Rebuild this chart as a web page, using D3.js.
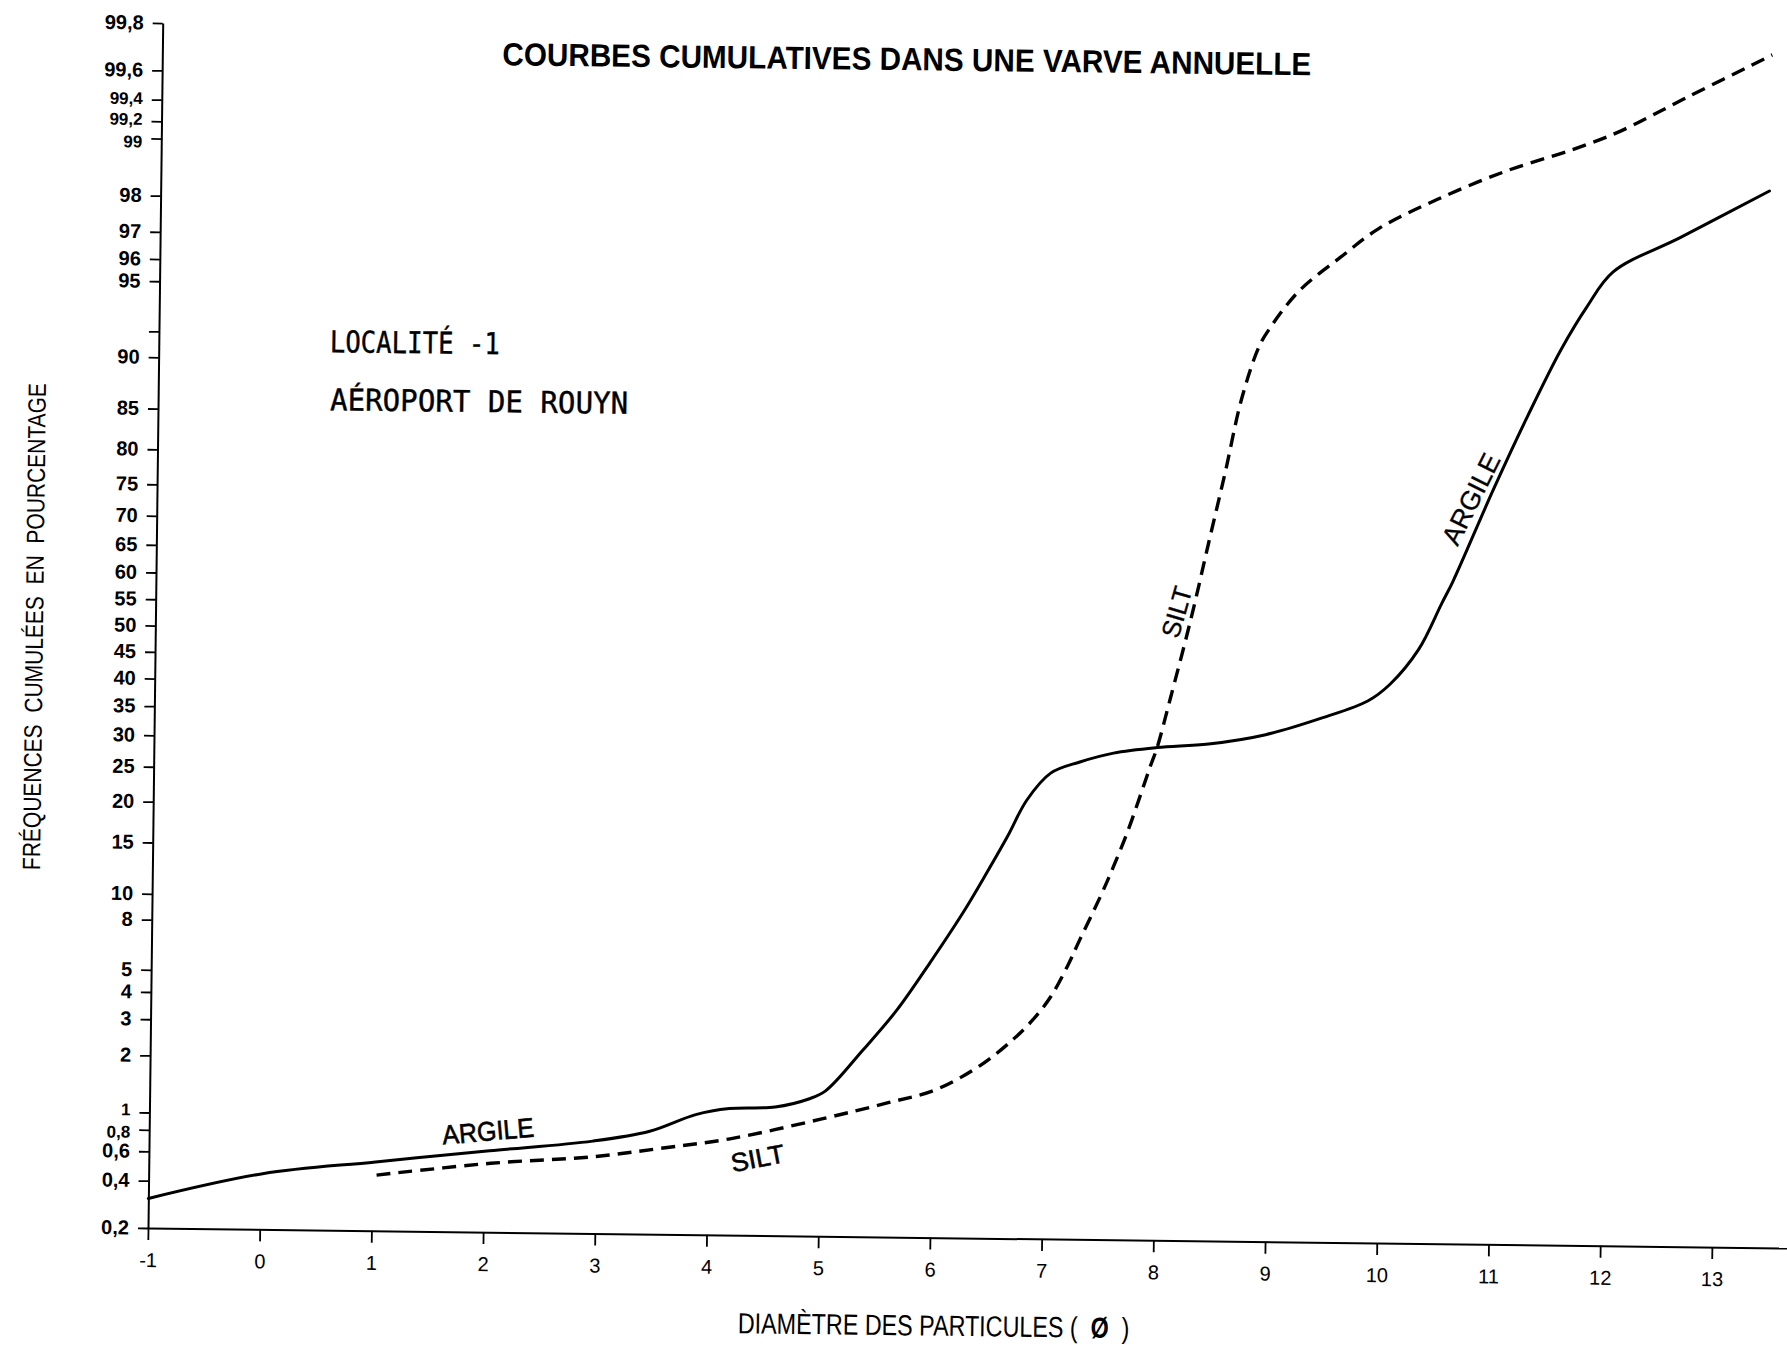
<!DOCTYPE html>
<html>
<head>
<meta charset="utf-8">
<script src="https://cdn.jsdelivr.net/npm/d3@7"></script>
<style>
  html, body { margin: 0; padding: 0; background: #fff; }
  svg { display: block; }
  .tick text { fill: #000; }
</style>
</head>
<body>
<svg id="chart" width="1787" height="1345"></svg>
<script>
// Grain size axis (phi units)
const phiTicks = [-1, 0, 1, 2, 3, 4, 5, 6, 7, 8, 9, 10, 11, 12, 13];
const phiTickLabels = ["-1", "0", "1", "2", "3", "4", "5", "6", "7", "8", "9", "10", "11", "12", "13"];

// Cumulative frequency axis (probability paper, %)
const pctTicks = [0.2, 0.4, 0.6, 0.8, 1, 2, 3, 4, 5, 8, 10, 15, 20, 25, 30, 35, 40, 45, 50,
                  55, 60, 65, 70, 75, 80, 85, 90, 92, 95, 96, 97, 98, 99, 99.2, 99.4, 99.6, 99.8];
const pctTickLabels = ["0,2", "0,4", "0,6", "0,8", "1", "2", "3", "4", "5", "8", "10", "15", "20", "25", "30", "35", "40", "45", "50",
                       "55", "60", "65", "70", "75", "80", "85", "90", "", "95", "96", "97", "98", "99", "99,2", "99,4", "99,6", "99,8"];

// ARGILE (clay layer) cumulative curve
const argilePhi = [-1.00, 0.02, 1.03, 2.05, 2.97, 3.48, 3.89, 4.19, 4.60, 4.90, 5.05, 5.38, 5.68, 5.97, 6.26, 6.47, 6.65, 6.82,
                   7.03, 7.29, 7.59, 7.98, 8.44, 8.95, 9.46, 9.86, 10.06, 10.31, 10.51, 10.61, 10.96, 11.26, 11.55, 11.78, 12.01, 12.61, 13.40];
const argilePct = [0.31, 0.45, 0.54, 0.64, 0.74, 0.85, 1.06, 1.15, 1.18, 1.31, 1.45, 2.35, 3.65, 5.87, 9.26, 12.9, 16.9, 21.7,
                   25.7, 27.5, 29.0, 30.0, 30.7, 32.4, 35.5, 38.6, 41.8, 48.4, 57.1, 61.3, 76.6, 86.0, 91.9, 94.6, 96.2, 97.4, 98.5];

// SILT (silt layer) cumulative curve
const siltPhi = [1.04, 2.06, 2.97, 3.58, 4.20, 5.01, 5.62, 6.03, 6.43, 6.72, 6.90, 7.05, 7.20, 7.31, 7.49, 7.60, 7.72, 7.83,
                 7.92, 7.98, 8.09, 8.27, 8.42, 8.56, 8.70, 8.85, 8.95, 9.20, 9.56, 9.91, 10.42, 11.03, 11.64, 12.04, 12.65, 13.41];
const siltPct = [0.45, 0.54, 0.60, 0.68, 0.78, 1.02, 1.27, 1.49, 2.0, 2.69, 3.36, 4.23, 5.76, 7.42, 10.8, 13.6, 17.5, 22.3,
                 26.9, 30.0, 38.4, 53.8, 67.7, 78.7, 87.5, 91.9, 93.2, 95.2, 96.6, 97.55, 98.25, 98.77, 99.08, 99.27, 99.55, 99.76];

// Inverse of the standard normal CDF (Acklam's approximation)
function probit(p) {
  const a = [-3.969683028665376e+01, 2.209460984245205e+02, -2.759285104469687e+02, 1.383577518672690e+02, -3.066479806614716e+01, 2.506628277459239e+00];
  const b = [-5.447609879822406e+01, 1.615858368580409e+02, -1.556989798598866e+02, 6.680131188771972e+01, -1.328068155288572e+01];
  const c = [-7.784894002430293e-03, -3.223964580411365e-01, -2.400758277161838e+00, -2.549732539343734e+00, 4.374664141464968e+00, 2.938163982698783e+00];
  const d = [7.784695709041462e-03, 3.224671290700398e-01, 2.445134137142996e+00, 3.754408661907416e+00];
  const pl = 0.02425, ph = 1 - pl;
  let q, r;
  if (p < pl) {
    q = Math.sqrt(-2 * Math.log(p));
    return (((((c[0]*q+c[1])*q+c[2])*q+c[3])*q+c[4])*q+c[5]) / ((((d[0]*q+d[1])*q+d[2])*q+d[3])*q+1);
  }
  if (p <= ph) {
    q = p - 0.5; r = q * q;
    return (((((a[0]*r+a[1])*r+a[2])*r+a[3])*r+a[4])*r+a[5])*q / (((((b[0]*r+b[1])*r+b[2])*r+b[3])*r+b[4])*r+1);
  }
  q = Math.sqrt(-2 * Math.log(1 - p));
  return -(((((c[0]*q+c[1])*q+c[2])*q+c[3])*q+c[4])*q+c[5]) / ((((d[0]*q+d[1])*q+d[2])*q+d[3])*q+1);
}
const z = pct => probit(pct / 100);

const svg = d3.select("#chart");
// the whole sheet sits slightly askew
const g = svg.append("g").attr("transform", "rotate(0.7,148,1228)");

const x = d3.scaleLinear().domain([-1, 13.7]).range([148, 1790.2]);
const y = d3.scaleLinear().domain([z(0.2), z(99.8)]).range([1228, 23]);

const FONT = "'Liberation Sans', Arial, sans-serif";

// axes
const yAxis = d3.axisLeft(y)
  .tickValues(pctTicks.map(z))
  .tickFormat((d, i) => pctTickLabels[i])
  .tickSize(10).tickSizeOuter(0).tickPadding(9);
const gy = g.append("g").attr("transform", "translate(148,0)").call(yAxis);
// tightly packed labels (top and bottom clusters) are set a touch smaller
const tight = { "99,4": "0.25em", "99,2": "0.2em", "99": "0.5em", "1": "0.15em", "0,8": "0.45em" };
gy.selectAll("text")
  .attr("font-family", FONT).attr("font-weight", "bold")
  .attr("font-size", (d, i) => tight[pctTickLabels[i]] ? 17 : 20)
  .attr("dy", (d, i) => tight[pctTickLabels[i]] || "0.3em");

const xAxis = d3.axisBottom(x)
  .tickValues(phiTicks)
  .tickFormat((d, i) => phiTickLabels[i])
  .tickSize(12).tickSizeOuter(0).tickPadding(8);
const gx = g.append("g").attr("transform", "translate(0,1228)").call(xAxis);
gx.selectAll("text").attr("font-family", FONT).attr("font-size", 20).attr("dy", "0.95em");

[gx, gy].forEach(ax => {
  ax.select(".domain").attr("stroke", "#000").attr("stroke-width", 2);
  ax.selectAll(".tick line").attr("stroke", "#000").attr("stroke-width", 1.8);
});

// cumulative curves
const line = d3.line()
  .x(d => x(d[0]))
  .y(d => y(z(d[1])))
  .curve(d3.curveCatmullRom.alpha(0.5));

g.append("path")
  .datum(argilePhi.map((p, i) => [p, argilePct[i]]))
  .attr("d", line)
  .attr("fill", "none").attr("stroke", "#000").attr("stroke-width", 3)
  .attr("stroke-linejoin", "round").attr("stroke-linecap", "round");

g.append("path")
  .datum(siltPhi.map((p, i) => [p, siltPct[i]]))
  .attr("d", line)
  .attr("fill", "none").attr("stroke", "#000").attr("stroke-width", 3.4)
  .attr("stroke-dasharray", "14,8");

// titles and annotations
function label(txt, px, py, opts) {
  const t = g.append("text")
    .attr("x", px).attr("y", py)
    .attr("font-family", opts.family || FONT)
    .attr("font-size", opts.size)
    .attr("font-weight", opts.weight || "normal")
    .attr("fill", "#000")
    .attr("text-anchor", opts.anchor || "start")
    .text(txt);
  if (opts.len) t.attr("textLength", opts.len).attr("lengthAdjust", "spacingAndGlyphs");
  if (opts.rot) t.attr("transform", `rotate(${opts.rot},${px},${py})`);
  if (opts.heavy) t.attr("stroke", "#000").attr("stroke-width", opts.heavy);
  return t;
}

label("COURBES CUMULATIVES DANS UNE VARVE ANNUELLE", 488, 61, { size: 32, weight: "bold", len: 809 });
label("LOCALITÉ -1", 319, 350, { size: 30, family: "'DejaVu Sans Mono', monospace", len: 170, heavy: 0.4 });
label("AÉROPORT DE ROUYN", 320, 408, { size: 30, family: "'DejaVu Sans Mono', monospace", len: 298, heavy: 0.4 });

label("FRÉQUENCES  CUMULÉES  EN  POURCENTAGE", 35.6, 628, { size: 25, anchor: "middle", len: 487, rot: -90 })
  .style("white-space", "pre");

// x-axis title with the bold phi symbol, condensed horizontally to its span
const xt = g.append("text")
  .attr("x", 0).attr("y", 0)
  .attr("font-family", FONT).attr("font-size", 29).attr("fill", "#000")
  .style("white-space", "pre");
xt.append("tspan").text("DIAMÈTRE DES PARTICULES (  ");
xt.append("tspan").attr("font-weight", "bold").text("Ø");
xt.append("tspan").text("  )");
const xtWidth = xt.node().getComputedTextLength();
xt.attr("transform", `translate(739,1326) scale(${392 / xtWidth},1)`);

label("ARGILE", 442, 1141, { size: 27, len: 92, rot: -5.7, heavy: 0.6 });
label("SILT", 732, 1165, { size: 26, len: 54, rot: -11.4, heavy: 0.6 });
label("SILT", 1171, 627, { size: 26, len: 52, rot: -74.7, heavy: 0.3 });
label("ARGILE", 1449, 531, { size: 27, len: 98, rot: -64.1, heavy: 0.3 });
</script>
</body>
</html>
